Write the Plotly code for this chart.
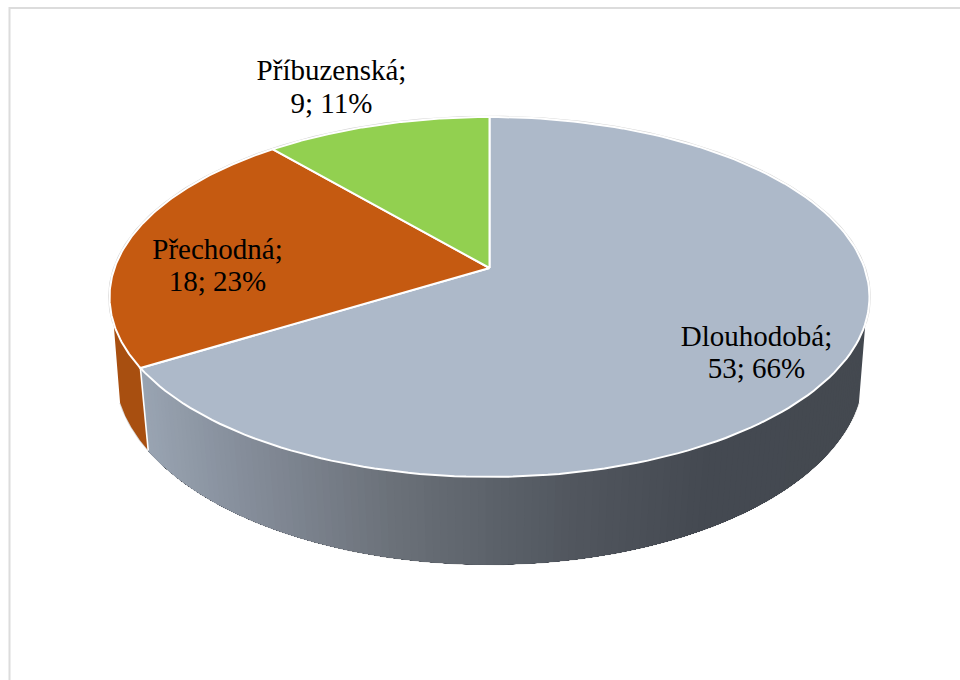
import math
import numpy as np
import plotly.graph_objects as go

categories = ["Dlouhodobá", "Přechodná", "Příbuzenská"]
values = [53, 18, 9]
top_colors = ["#adb9c9", "#c55a11", "#92d050"]
wall_colors = [None, "#a84f10", "#7fb545"]
label_x = [756.5, 217.5, 331.5]
label_y = [338.5, 251.5, 73.0]
LINE_GAP = 32.5

W, H = 960, 680
CX = 489.5
TOP = dict(a=375.0, b=175.3, k=0.161, y0=268.0)
BOT = dict(a=371.0, b=190.3, k=0.14, y0=343.2)
WALL_V = 0.3  # the side wall is visible where the forward coordinate exceeds this
GX = [110, 148, 250, 400, 500, 580, 700, 870]
GR = [0x9a, 0x9a, 0x86, 0x6b, 0x5c, 0x51, 0x45, 0x44]
GG = [0xa5, 0xa5, 0x8e, 0x71, 0x62, 0x56, 0x4a, 0x49]
GB = [0xb3, 0xb3, 0x9b, 0x79, 0x6a, 0x5e, 0x52, 0x50]


def project(theta, p):
    """theta is clockwise from twelve o'clock on the pie's unit circle."""
    theta = np.asarray(theta, dtype=float)
    u, v = np.sin(theta), -np.cos(theta)
    d = 1 - p["k"] * v
    return CX + p["a"] * u / d, p["y0"] + p["b"] * v / d


total = sum(values)
edges = np.cumsum([0] + values) / total * 2 * math.pi
wall_start = math.acos(-WALL_V)
wall_end = 2 * math.pi - wall_start
fig = go.Figure()


def line(x, y, color, width):
    fig.add_trace(go.Scatter(x=list(x), y=list(y), mode="lines",
                             line=dict(color=color, width=width),
                             hoverinfo="skip", showlegend=False))


def poly(x, y, fill, edge=None, width=0.0):
    fig.add_trace(go.Scatter(
        x=list(x), y=list(y), mode="lines", fill="toself", fillcolor=fill,
        line=dict(color=edge or fill, width=width), hoverinfo="skip", showlegend=False,
    ))


# frame: only the top and left rules are present
line([9.5, 9.5, W], [H, 8, 8], "#dcdcdc", 2)

# faint outer silhouette of the wall
bs = np.linspace(wall_start, wall_end, 200)
bx, by = project(bs, BOT)
line(bx, by, "#d8d8d8", 1.6)

# walls: each polygon runs to the end of the slice, so the next one overpaints it without seams
for i in range(len(values)):
    a0, a1 = max(edges[i], wall_start), min(edges[i + 1], wall_end)
    if a1 <= a0:
        continue
    if wall_colors[i] is None:
        grid = np.linspace(a0, a1, int((a1 - a0) / math.radians(1.0)) + 1)[:-1]
    else:
        grid = np.array([a0])
    for t in grid:
        seg = np.linspace(t, a1, 60)
        x1, y1 = project(seg, TOP)
        x2, y2 = project(seg[::-1], BOT)
        if wall_colors[i] is None:
            xm = project([t], BOT)[0][0]
            col = "rgb(%d,%d,%d)" % (np.interp(xm, GX, GR), np.interp(xm, GX, GG), np.interp(xm, GX, GB))
        else:
            col = wall_colors[i]
        poly(np.r_[x1, x2, x1[0]], np.r_[y1, y2, y1[0]], col, col, 0.0)

# white vertical edge between the orange wall and the grey wall
ex1, ey1 = project([edges[1]], TOP)
ex2, ey2 = project([edges[1]], BOT)
line([ex1[0], ex2[0]], [ey1[0], ey2[0]], "white", 1.6)

# faint fringe around the back of the top face
back = np.linspace(wall_end, 2 * math.pi + wall_start, 300)
fx, fy = project(back, TOP)
line(fx, fy, "#d4d4d4", 2.8)

# top face
for i in range(len(values)):
    g = np.linspace(edges[i], edges[i + 1], 160)
    x, y = project(g, TOP)
    poly(np.r_[CX, x, CX], np.r_[TOP["y0"], y, TOP["y0"]], top_colors[i], "white", 2.0)

# labels: two text rows for tighter leading than plotly's <br>
for cat, val, lx, ly in zip(categories, values, label_x, label_y):
    pct = math.floor(val / total * 100 + 0.5)
    fig.add_trace(go.Scatter(
        x=[lx, lx], y=[ly, ly + LINE_GAP], mode="text",
        text=[f"{cat};", f"{val}; {pct}%"],
        textposition="middle center",
        textfont=dict(family="Liberation Serif", size=29, color="#000000"),
        hoverinfo="skip", showlegend=False,
    ))

fig.update_layout(
    width=W, height=H, margin=dict(l=0, r=0, t=0, b=0), autosize=False,
    paper_bgcolor="white", plot_bgcolor="white", showlegend=False,
    xaxis=dict(range=[0, W], visible=False, fixedrange=True),
    yaxis=dict(range=[H, 0], visible=False, fixedrange=True),
)
fig.write_html("out.html", config=dict(displayModeBar=False),
               post_script="document.body.style.margin='0';document.body.style.overflow='hidden';")
